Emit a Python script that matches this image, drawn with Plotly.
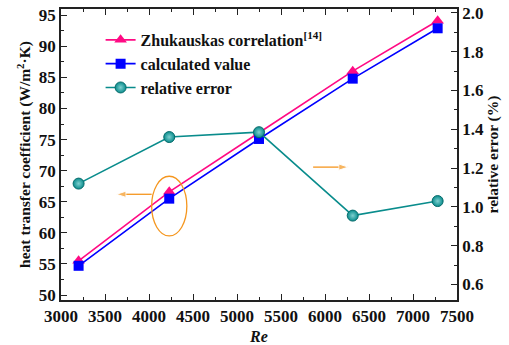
import plotly.graph_objects as go

re = [3200, 4230, 5250, 6315, 7280]
h_zhukauskas = [55.5, 66.6, 76.1, 86.0, 94.1]
h_calculated = [54.7, 65.5, 75.1, 84.8, 92.9]
rel_error = [1.12, 1.36, 1.385, 0.955, 1.03]

x_ticks = [3000, 3500, 4000, 4500, 5000, 5500, 6000, 6500, 7000, 7500]

PINK = "#ff0a84"
BLUE = "#0000ff"
TEAL = "#098c8c"
ORANGE = "#f5961e"
FONT = "'Liberation Serif', 'Times New Roman', 'DejaVu Serif', serif"

fig = go.Figure()
fig.add_trace(go.Scatter(
    x=re, y=h_zhukauskas, mode="lines+markers",
    name="Zhukauskas correlation<sup>[14]</sup>",
    line=dict(color=PINK, width=1.6),
    marker=dict(symbol="triangle-up", size=11, color=PINK),
))
fig.add_trace(go.Scatter(
    x=re, y=h_calculated, mode="lines+markers",
    name="calculated value",
    line=dict(color=BLUE, width=1.6),
    marker=dict(symbol="square", size=10, color=BLUE),
))
fig.add_trace(go.Scatter(
    x=re, y=rel_error, mode="lines+markers", yaxis="y2",
    name="relative error",
    line=dict(color=TEAL, width=1.6),
    marker=dict(symbol="circle", size=11, color=TEAL,
                line=dict(color="#066b6b", width=1),
                gradient=dict(type="radial", color="#7fd0d0")),
))

# orange arrows pointing to the corresponding axes (drawn as line + arrow marker)
fig.add_trace(go.Scatter(
    x=[re[1] - 200, re[1] - 600], y=[66.2, 66.2], mode="lines+markers",
    line=dict(color=ORANGE, width=1.3), showlegend=False, hoverinfo="skip",
    marker=dict(symbol="arrow", angleref="previous", size=[0, 10], color=ORANGE),
))
fig.add_trace(go.Scatter(
    x=[re[2] + 615, re[2] + 1015], y=[1.205, 1.205], mode="lines+markers", yaxis="y2",
    line=dict(color=ORANGE, width=1.3), showlegend=False, hoverinfo="skip",
    marker=dict(symbol="arrow", angleref="previous", size=[0, 10], color=ORANGE),
))

axis_common = dict(
    showline=True, linecolor="#222", linewidth=1.5,
    ticks="inside", ticklen=6, tickwidth=1.3, tickcolor="#222",
    showgrid=False, zeroline=False, automargin=False,
    tickfont=dict(family=FONT, size=17, color="#111", weight="bold"),
)

fig.update_layout(
    width=509, height=345,
    margin=dict(l=61, r=52, t=9, b=45),
    paper_bgcolor="white", plot_bgcolor="white",
    font=dict(family=FONT, color="#111"),
    showlegend=True,
    legend=dict(
        x=0.1, y=0.952, xanchor="left", yanchor="top",
        bgcolor="rgba(0,0,0,0)",
        font=dict(family=FONT, size=16, color="#111", weight="bold"),
        tracegroupgap=0, itemsizing="trace",
    ),
    xaxis=dict(
        **axis_common,
        range=[3000, 7500], tickvals=x_ticks, mirror="ticks",
        minor=dict(ticks="inside", ticklen=3, tickwidth=1.2, tickcolor="#222", dtick=250),
        title=dict(text="<i>Re</i>", standoff=6,
                   font=dict(family=FONT, size=16, color="#111", weight="bold")),
    ),
    yaxis=dict(
        **axis_common,
        range=[49.2, 96], dtick=5,
        minor=dict(ticks="inside", ticklen=3, tickwidth=1.2, tickcolor="#222", dtick=2.5),
        title=dict(text="heat transfer coefficient (W/m<sup>2</sup>·K)", standoff=4,
                   font=dict(family=FONT, size=15.5, color="#111", weight="bold")),
    ),
    yaxis2=dict(
        **axis_common,
        overlaying="y", side="right",
        range=[0.52, 2.02], dtick=0.2, tickformat=".1f",
        minor=dict(ticks="inside", ticklen=3, tickwidth=1.2, tickcolor="#222", dtick=0.1),
        title=dict(text="relative error (%)", standoff=4,
                   font=dict(family=FONT, size=15.5, color="#111", weight="bold")),
    ),
)

# orange ellipse around the second data point
fig.add_shape(type="circle", xref="x", yref="y",
              x0=re[1] - 200, x1=re[1] + 200,
              y0=h_calculated[1] - 6.0, y1=h_calculated[1] + 3.6,
              line=dict(color=ORANGE, width=1.3))

fig.write_html("out.html")
